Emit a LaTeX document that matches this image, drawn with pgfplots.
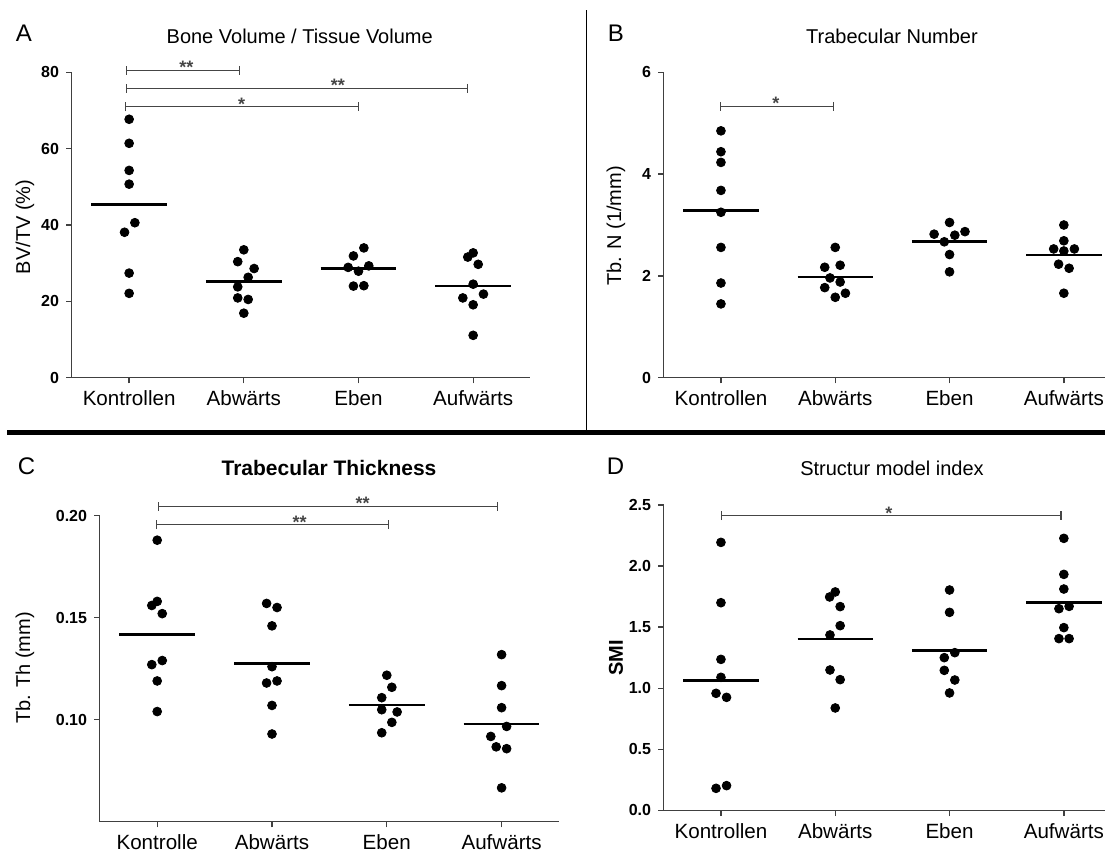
\documentclass[border=0pt]{standalone}
\usepackage{fontspec}
\setmainfont{Liberation Sans}
\usepackage{pgfplots}
\pgfplotsset{compat=1.18}
\usetikzlibrary{arrows.meta}
\definecolor{axgray}{HTML}{404040}
\definecolor{bargray}{HTML}{454545}
\pgfplotsset{
 gp/.style={
  scale only axis, anchor=south west,
  axis lines=left, axis line style={-, axgray, line width=0.65pt},
  tick style={axgray, line width=0.65pt}, major tick length=2.85pt, tick align=outside,
  xmin=-0.5, xtick={0,1,2,3},
  xticklabels={Kontrollen,Abwärts,Eben,Aufwärts},
  x tick label style={font=\fontsize{10.3}{12}\selectfont, text=black, text height=7.6pt, text depth=2.2pt},
  y tick label style={font=\fontsize{8}{9}\selectfont\bfseries, text=black},
  /pgf/number format/assume math mode=true,
  scaled y ticks=false,
  clip=false,
 },
 pts/.style={only marks, mark=*, mark size=2.2pt, black},
 ml/.style={black, line width=1.4pt, forget plot},
}
\newcommand\sigbar[5]{%
 \draw[bargray, line width=0.6pt, {Bar[width=4.5pt]}-{Bar[width=4.5pt]}] (axis cs:#1,#3) -- (axis cs:#2,#3);
 \node[font=\fontsize{9}{10}\selectfont\bfseries, text=bargray, anchor=base, inner sep=0pt, yshift=-1.7pt] at (axis cs:#4,#3) {#5};}
\begin{document}
\begin{tikzpicture}
\useasboundingbox (0,0) rectangle (552.5pt,-426pt);
% separators
\draw[line width=0.85pt] (293.25pt,-5pt) -- (293.25pt,-216pt);
\draw[line width=2.5pt] (3.5pt,-216.25pt) -- (552.5pt,-216.25pt);
% letters, titles, ylabels
\node[font=\fontsize{12}{14}\selectfont] at (12pt,-16.5pt) {A};
\node[font=\fontsize{12}{14}\selectfont] at (308pt,-16.5pt) {B};
\node[font=\fontsize{12}{14}\selectfont] at (13.25pt,-233.35pt) {C};
\node[font=\fontsize{12}{14}\selectfont] at (307.75pt,-233.35pt) {D};
\node[font=\fontsize{10}{12}\selectfont] at (149.85pt,-18pt) {Bone Volume / Tissue Volume};
\node[font=\fontsize{10}{12}\selectfont] at (446pt,-18pt) {Trabecular Number};
\node[font=\fontsize{10.5}{12}\selectfont\bfseries] at (164.5pt,-234.2pt) {Trabecular Thickness};
\node[font=\fontsize{10}{12}\selectfont] at (446pt,-234pt) {Structur model index};
\node[font=\fontsize{10}{12}\selectfont, rotate=90] at (12.5pt,-113.5pt) {BV/TV (\%)};
\node[font=\fontsize{10}{12}\selectfont, rotate=90] at (308pt,-113pt) {Tb. N (1/mm)};
\node[font=\fontsize{10}{12}\selectfont, rotate=90] at (12.5pt,-334pt) {Tb. Th (mm)};
\node[font=\fontsize{10}{12}\selectfont\bfseries, rotate=90] at (308pt,-329pt) {SMI};

% Panel A
\begin{axis}[gp, at={(35.9pt,-188.85pt)}, width=229.35pt, height=152.7pt,
  xmax=3.5, ymin=0, ymax=80, ytick={0,20,40,60,80}]
\addplot[pts] coordinates {(0,67.7) (0,61.4) (0,54.3) (0,50.7) (0.05,40.6) (-0.04,38.1) (0,27.4) (0,22.1)};
\addplot[pts] coordinates {(1,33.5) (0.947,30.4) (1.09,28.6) (1.038,26.3) (0.947,23.8) (0.947,20.9) (1.038,20.5) (1,16.9)};
\addplot[pts] coordinates {(2.047,34.0) (1.956,31.9) (2.09,29.3) (1.91,28.9) (2,27.9) (1.956,24.0) (2.047,24.1)};
\addplot[pts] coordinates {(3,32.7) (2.953,31.6) (3.044,29.7) (3,24.5) (3.09,21.9) (2.91,20.9) (3,19.1) (3,11.1)};
\addplot[ml] coordinates {(-0.33,45.3) (0.33,45.3)};
\addplot[ml] coordinates {(0.67,25.2) (1.33,25.2)};
\addplot[ml] coordinates {(1.67,28.6) (2.33,28.6)};
\addplot[ml] coordinates {(2.67,24.0) (3.33,24.0)};
\sigbar{-0.03}{0.965}{80.5}{0.5}{**}
\sigbar{-0.03}{2.953}{75.8}{1.82}{**}
\sigbar{-0.04}{2.006}{71.0}{0.98}{*}
\end{axis}

% Panel B
\begin{axis}[gp, at={(331.9pt,-188.85pt)}, width=220.6pt, height=152.7pt,
  xmax=3.36, ymin=0, ymax=6, ytick={0,2,4,6}]
\addplot[pts] coordinates {(0,4.85) (0,4.44) (0,4.23) (0,3.68) (0,3.25) (0,2.56) (0,1.86) (0,1.45)};
\addplot[pts] coordinates {(1,2.56) (1.043,2.21) (0.908,2.17) (0.954,1.96) (1.043,1.88) (0.908,1.77) (1.089,1.66) (1,1.58)};
\addplot[pts] coordinates {(2,3.05) (2.135,2.87) (1.865,2.82) (2.046,2.80) (1.954,2.67) (2,2.42) (2,2.08)};
\addplot[pts] coordinates {(3,3.0) (3,2.69) (2.911,2.53) (3,2.49) (3.092,2.53) (2.954,2.23) (3.046,2.15) (3,1.66)};
\addplot[ml] coordinates {(-0.33,3.29) (0.33,3.29)};
\addplot[ml] coordinates {(0.67,1.98) (1.33,1.98)};
\addplot[ml] coordinates {(1.67,2.68) (2.33,2.68)};
\addplot[ml] coordinates {(2.67,2.41) (3.33,2.41)};
\sigbar{-0.01}{0.99}{5.33}{0.48}{*}
\end{axis}

% Panel C
\begin{axis}[gp, at={(49.9pt,-410.85pt)}, width=229.6pt, height=153pt,
  xmax=3.5, ymin=0.05, ymax=0.20, ytick={0.10,0.15,0.20},
  xticklabels={Kontrolle,Abwärts,Eben,Aufwärts},
  yticklabel style={/pgf/number format/.cd, fixed, fixed zerofill, precision=2}]
\addplot[pts] coordinates {(0,0.188) (0,0.158) (-0.047,0.156) (0.044,0.152) (0.044,0.129) (-0.047,0.127) (0,0.119) (0,0.104)};
\addplot[pts] coordinates {(0.953,0.157) (1.044,0.155) (1,0.146) (1,0.126) (1.044,0.119) (0.953,0.118) (1,0.107) (1,0.093)};
\addplot[pts] coordinates {(2,0.1218) (2.044,0.1159) (1.956,0.1108) (1.956,0.1049) (2.09,0.1038) (2.044,0.0987) (1.956,0.0936)};
\addplot[pts] coordinates {(3,0.1319) (3,0.1167) (3,0.1059) (3.044,0.0967) (2.906,0.0918) (2.953,0.0867) (3.044,0.0858) (3,0.0666)};
\addplot[ml] coordinates {(-0.33,0.1417) (0.33,0.1417)};
\addplot[ml] coordinates {(0.67,0.1277) (1.33,0.1277)};
\addplot[ml] coordinates {(1.67,0.1072) (2.33,0.1072)};
\addplot[ml] coordinates {(2.67,0.0979) (3.33,0.0979)};
\sigbar{0.006}{2.97}{0.2046}{1.79}{**}
\sigbar{-0.01}{2.02}{0.1956}{1.24}{**}
\end{axis}

% Panel D
\begin{axis}[gp, at={(331.9pt,-405.15pt)}, width=220.6pt, height=152.65pt,
  xmax=3.36, ymin=0, ymax=2.5, ytick={0,0.5,1,1.5,2,2.5},
  yticklabel style={/pgf/number format/.cd, fixed, fixed zerofill, precision=1}]
\addplot[pts] coordinates {(0,2.194) (0,1.70) (0,1.236) (0,1.089) (-0.043,0.958) (0.049,0.925) (0.049,0.202) (-0.043,0.18)};
\addplot[pts] coordinates {(1,1.788) (0.951,1.747) (1.043,1.668) (1.043,1.512) (0.954,1.436) (0.954,1.149) (1.043,1.07) (1,0.838)};
\addplot[pts] coordinates {(2,1.804) (2,1.621) (2.046,1.291) (1.954,1.25) (1.954,1.146) (2.046,1.067) (2,0.961)};
\addplot[pts] coordinates {(3,2.227) (3,1.932) (3,1.812) (3.046,1.670) (2.957,1.651) (3,1.496) (2.957,1.406) (3.046,1.406)};
\addplot[ml] coordinates {(-0.33,1.062) (0.33,1.062)};
\addplot[ml] coordinates {(0.67,1.403) (1.33,1.403)};
\addplot[ml] coordinates {(1.67,1.31) (2.33,1.31)};
\addplot[ml] coordinates {(2.67,1.70) (3.33,1.70)};
\sigbar{0}{2.98}{2.413}{1.47}{*}
\end{axis}
\end{tikzpicture}
\end{document}
